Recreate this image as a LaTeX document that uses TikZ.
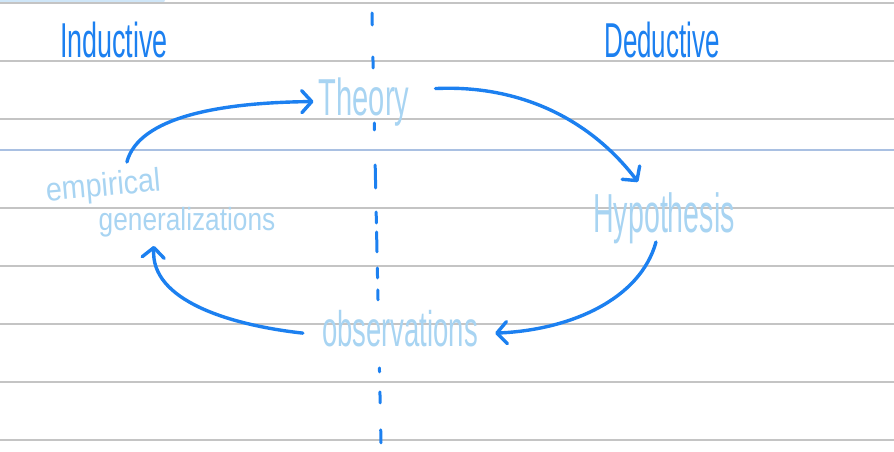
\documentclass[tikz,border=0pt]{standalone}
\usepackage{fontspec}
\usepackage{graphicx}
\setmainfont{Liberation Sans}
\usetikzlibrary{arrows.meta, calc, positioning}
\definecolor{InkBlue}{HTML}{1C80F0}
\definecolor{PaleInk}{HTML}{A8D4F2}
\definecolor{RuleGray}{HTML}{C4C4C4}
\definecolor{MarginBlue}{HTML}{A9C0E2}
\definecolor{TabBlue}{HTML}{CFE6F8}
\newcommand{\squeeze}[2]{\scalebox{#1}[1]{#2}}

\begin{document}
\begin{tikzpicture}[x=1pt, y=-1pt,
        rule/.style={draw=RuleGray, line width=2pt},
        divider/.style={draw=InkBlue, line width=3pt, line cap=round,
          dash pattern=on 12pt off 32pt on 11pt off 55pt on 7pt off 35pt on 23pt off 24pt
            on 11pt off 9pt on 20pt off 16pt on 10pt off 12pt on 10pt off 68pt
            on 4pt off 20pt on 11pt off 27pt on 13pt off 20pt},
        loopline/.style={draw=InkBlue, line width=3.4pt, line cap=round,
          -{Straight Barb[length=10pt, width=22pt, round]}},
        heading/.style={inner sep=0pt, anchor=base, text=InkBlue},
        stage/.style={inner sep=0pt, anchor=base, text=PaleInk}]
        \useasboundingbox (0,0) rectangle (894,452);
        \fill[TabBlue, rounded corners=3pt] (-8,-10) rectangle (165,3);
        \foreach \y in {3,61,119,208,266,324,382,440}
          \draw[rule] (0,\y) -- (894,\y);
        \draw[draw=MarginBlue, line width=1.4pt] (0,150) -- (894,150);
        \coordinate (divtop) at (372,13);
        \coordinate (divbot) at (381,443);
        \draw[divider] (divtop) -- (divbot);

        \node[heading, font=\fontsize{49}{52}\selectfont] (inductive) at (114,58) {\squeeze{0.55}{Inductive}};
        \node[heading, font=\fontsize{49}{52}\selectfont] (deductive) at (662,58) {\squeeze{0.53}{Deductive}};
        \node[stage, font=\fontsize{52}{56}\selectfont] (theory) at (364,115) {\squeeze{0.56}{Theory}};
        \node[stage, font=\fontsize{55}{58}\selectfont] (hypothesis) at (664,232) {\squeeze{0.52}{Hypothesis}};
        \node[stage, font=\fontsize{50}{54}\selectfont] (observations) at (400,346) {\squeeze{0.55}{observations}};
        \node[stage, font=\fontsize{33}{36}\selectfont, rotate=5] (empirical) at (104,196) {\squeeze{0.87}{empirical}};
        \node[stage, font=\fontsize{32}{34}\selectfont] (generalizations) at (187,230) {\squeeze{0.82}{generalizations}};

        \draw[loopline] ($(empirical.north)+(25,-10)$) .. controls +(12,-45) and +(-94,1) .. ($(theory.west)+(-5,0)$);
        \draw[loopline] ($(theory.east)+(26,-13)$) .. controls +(84,-4) and +(-48,-63) .. ($(hypothesis.north)+(-26,-10)$);
        \draw[loopline] ($(hypothesis.base)+(-8,10)$) .. controls +(-16,58) and +(74,-3) .. ($(observations.east)+(17,5)$);
        \draw[loopline] ($(observations.west)+(-19,5)$) .. controls +(-72,-8) and +(-4,55) .. ($(generalizations.south)+(-33,9)$);
      \end{tikzpicture}
\end{document}
